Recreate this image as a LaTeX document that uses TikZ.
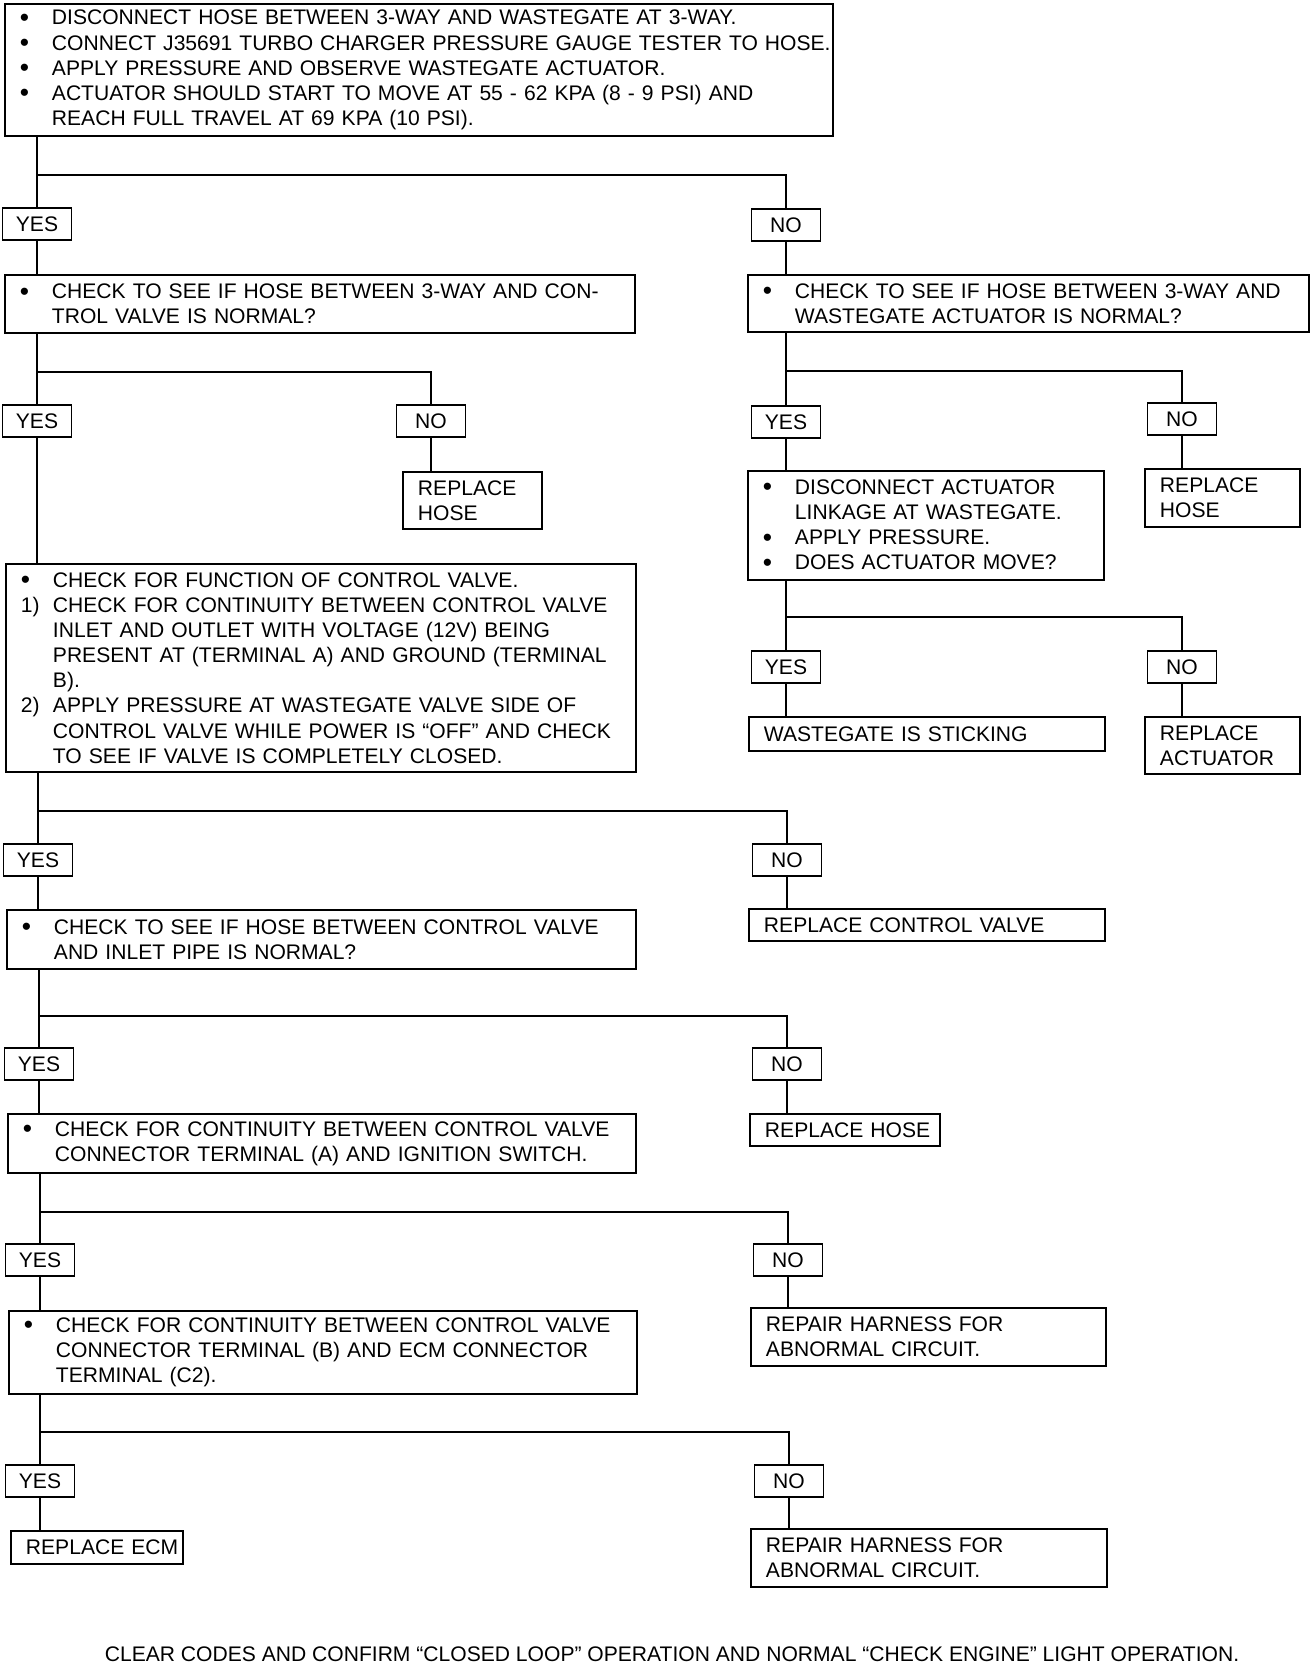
\documentclass[tikz,border=0pt]{standalone}
\usepackage{fontspec}
\setmainfont{Liberation Sans}
\newcommand{\bul}{\makebox[0.64cm][l]{\raisebox{-0.8pt}{\fontsize{15}{15}\selectfont\textbullet}}}
\newcommand{\itm}[1]{\makebox[0.64cm][l]{#1}}
\newcommand{\ind}{\hspace*{0.64cm}}
\begin{document}
\begin{tikzpicture}[x=0.02cm,y=-0.02cm,
	font=\fontsize{12}{14.3}\selectfont,
	box/.style={draw,line width=1.1pt,anchor=north west,align=left,inner sep=0pt,
		execute at begin node={\leftskip=0.3cm}},
	ans/.style={draw,line width=1.1pt,minimum width=1.38cm,minimum height=0.64cm,inner sep=0pt},
	link/.style={line width=1pt}]
	\useasboundingbox (0,0) rectangle (1312,1666);
	
	% Kiem tra ban dau
	\node[box,text width=16.56cm,minimum height=2.64cm] (test) at (4,3) {\bul DISCONNECT HOSE BETWEEN 3-WAY AND WASTEGATE AT 3-WAY.\\
		\bul CONNECT J35691 TURBO CHARGER PRESSURE GAUGE TESTER TO HOSE.\\
		\bul APPLY PRESSURE AND OBSERVE WASTEGATE ACTUATOR.\\
		\bul ACTUATOR SHOULD START TO MOVE AT 55 - 62 KPA (8 - 9 PSI) AND\\
		\ind REACH FULL TRAVEL AT 69 KPA (10 PSI).};
	\node[ans] (yes1) at (37,224) {YES};
	\node[ans] (no1) at (786,225) {NO};
	
	% Nhanh trai: ong 3-way - van dieu khien
	\node[box,text width=12.6cm,minimum height=1.16cm] (ckvalve) at (4,274) {\bul CHECK TO SEE IF HOSE BETWEEN 3-WAY AND CON-\\
		\ind TROL VALVE IS NORMAL?};
	\node[ans] (yes2) at (37,421) {YES};
	\node[ans] (no2) at (431,421) {NO};
	\node[box,text width=2.78cm,minimum height=1.14cm] (rhose1) at (402,471) {REPLACE\\HOSE};
	\node[box,text width=12.6cm,minimum height=4.16cm] (ctrlfn) at (5,563) {\bul CHECK FOR FUNCTION OF CONTROL VALVE.\\
		\itm{1)}CHECK FOR CONTINUITY BETWEEN CONTROL VALVE\\
		\ind INLET AND OUTLET WITH VOLTAGE (12V) BEING\\
		\ind PRESENT AT (TERMINAL A) AND GROUND (TERMINAL\\
		\ind B).\\
		\itm{2)}APPLY PRESSURE AT WASTEGATE VALVE SIDE OF\\
		\ind CONTROL VALVE WHILE POWER IS “OFF” AND CHECK\\
		\ind TO SEE IF VALVE IS COMPLETELY CLOSED.};
	
	% Nhanh phai: ong 3-way - co cau chap hanh
	\node[box,text width=11.22cm,minimum height=1.14cm] (ckact) at (747,274) {\bul CHECK TO SEE IF HOSE BETWEEN 3-WAY AND\\
		\ind WASTEGATE ACTUATOR IS NORMAL?};
	\node[ans] (yes3) at (786,422) {YES};
	\node[ans] (no3) at (1182,419) {NO};
	\node[box,text width=3.1cm,minimum height=1.16cm] (rhose2) at (1144,468) {REPLACE\\HOSE};
	\node[box,text width=7.12cm,minimum height=2.18cm] (discon) at (747,470) {\bul DISCONNECT ACTUATOR\\
		\ind LINKAGE AT WASTEGATE.\\
		\bul APPLY PRESSURE.\\
		\bul DOES ACTUATOR MOVE?};
	\node[ans] (yes4) at (786,667) {YES};
	\node[ans] (no4) at (1182,667) {NO};
	\node[box,text width=7.12cm,minimum height=0.68cm] (stick) at (748,716) {WASTEGATE IS STICKING};
	\node[box,text width=3.1cm,minimum height=1.14cm] (ract) at (1144,716) {REPLACE\\ACTUATOR};
	
	% Van dieu khien
	\node[ans] (yes5) at (38,860) {YES};
	\node[ans] (no5) at (787,860) {NO};
	\node[box,text width=12.58cm,minimum height=1.18cm] (ckinlet) at (6,909) {\bul CHECK TO SEE IF HOSE BETWEEN CONTROL VALVE\\
		\ind AND INLET PIPE IS NORMAL?};
	\node[box,text width=7.12cm,minimum height=0.64cm] (rcv) at (748,908) {REPLACE CONTROL VALVE};
	\node[ans] (yes6) at (39,1064) {YES};
	\node[ans] (no6) at (787,1064) {NO};
	\node[box,text width=12.56cm,minimum height=1.18cm] (ckign) at (7,1113) {\bul CHECK FOR CONTINUITY BETWEEN CONTROL VALVE\\
		\ind CONNECTOR TERMINAL (A) AND IGNITION SWITCH.};
	\node[box,text width=3.8cm,minimum height=0.64cm] (rhose3) at (749,1113) {REPLACE HOSE};
	\node[ans] (yes7) at (40,1260) {YES};
	\node[ans] (no7) at (788,1260) {NO};
	\node[box,text width=12.56cm,minimum height=1.66cm] (ckecm) at (8,1310) {\bul CHECK FOR CONTINUITY BETWEEN CONTROL VALVE\\
		\ind CONNECTOR TERMINAL (B) AND ECM CONNECTOR\\
		\ind TERMINAL (C2).};
	\node[box,text width=7.1cm,minimum height=1.16cm] (rharn1) at (750,1307) {REPAIR HARNESS FOR\\ABNORMAL CIRCUIT.};
	\node[ans] (yes8) at (40,1481) {YES};
	\node[ans] (no8) at (789,1481) {NO};
	\node[box,text width=3.44cm,minimum height=0.66cm] (recm) at (10,1530) {REPLACE ECM};
	\node[box,text width=7.12cm,minimum height=1.16cm] (rharn2) at (750,1528) {REPAIR HARNESS FOR\\ABNORMAL CIRCUIT.};
	
	% Ghi chu cuoi
	\node (note) at (672,1654) {CLEAR CODES AND CONFIRM “CLOSED LOOP” OPERATION AND NORMAL “CHECK ENGINE” LIGHT OPERATION.};
	
	% Diem re nhanh
	\coordinate (s1) at (37,175);
	\coordinate (s2) at (37,372);
	\coordinate (s3) at (786,371);
	\coordinate (s4) at (786,617);
	\coordinate (s5) at (38,811);
	\coordinate (s6) at (39,1016);
	\coordinate (s7) at (40,1212);
	\coordinate (s8) at (40,1432);
	\foreach \from/\s/\y/\n in {test/s1/yes1/no1,ckvalve/s2/yes2/no2,ckact/s3/yes3/no3,discon/s4/yes4/no4,
		ctrlfn/s5/yes5/no5,ckinlet/s6/yes6/no6,ckign/s7/yes7/no7,ckecm/s8/yes8/no8}{
		\draw[link] (\from.south -| \s) -- (\y.north);
		\draw[link] (\s) -| (\n.north);
	}
	
	% Noi YES/NO xuong hop
	\foreach \a/\b in {yes1/ckvalve,no1/ckact,no2/rhose1,yes2/ctrlfn,yes3/discon,no3/rhose2,
		yes4/stick,no4/ract,yes5/ckinlet,no5/rcv,yes6/ckign,no6/rhose3,yes7/ckecm,no7/rharn1,
		yes8/recm,no8/rharn2}
		\draw[link] (\a.south) -- (\a.south |- \b.north);
\end{tikzpicture}
\end{document}
